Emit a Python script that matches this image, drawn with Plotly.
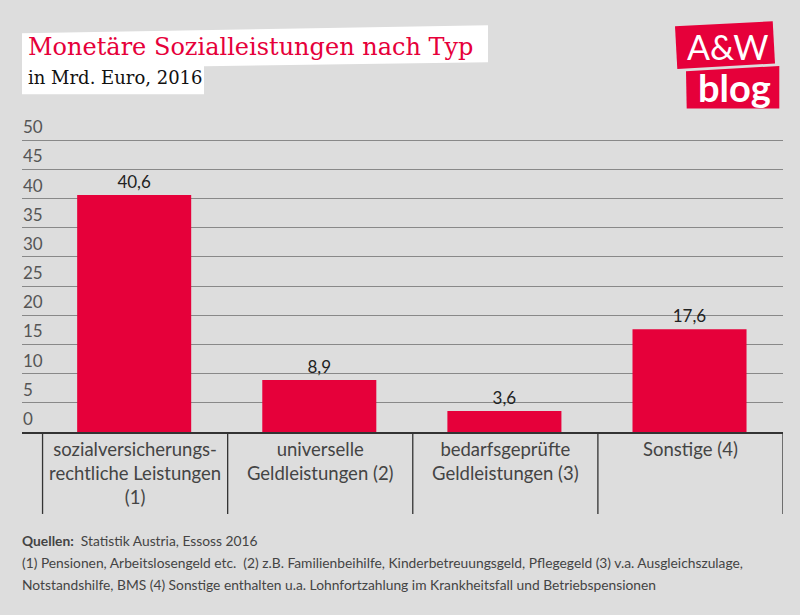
import plotly.graph_objects as go

W = 800
H = 615
# etwas ueber 50 hinaus, sonst zeichnet plotly die oberste Gitterlinie nicht
Y_MAX = 50.2
L, R, B = 22, 783, 432
T = B - Y_MAX * 5.84

kategorien = ["sozialversicherungs-<br>rechtliche Leistungen<br>(1)", "universelle<br>Geldleistungen (2)",
              "bedarfsgeprüfte<br>Geldleistungen (3)", "Sonstige (4)"]
werte = [40.6, 8.9, 3.6, 17.6]
y_ticks = [0, 5, 10, 15, 20, 25, 30, 35, 40, 45, 50]
positionen = [0, 1, 2, 3]
trenner = [-0.5, 0.5, 1.5, 2.5, 3.5]

ROT = "#e6003a"
TEXT = "#444444"
SANS = "Lato"
SLAB = "DejaVu Serif"


# Pixel im Bild -> paper-Koordinaten
def px(x):
    return (x - L) / (R - L)


def py(y):
    return (B - y) / (B - T)


def polygon(punkte, farbe):
    pfad = "M " + " L ".join(f"{px(x):.5f},{py(y):.5f}" for x, y in punkte) + " Z"
    return dict(type="path", xref="paper", yref="paper", path=pfad, fillcolor=farbe,
                line=dict(width=0), layer="below")


def text(x, y, s, size, color, family, anchor="left"):
    return dict(xref="paper", yref="paper", x=px(x), y=py(y), text=s, showarrow=False, xanchor=anchor,
                yanchor="middle", align="left", font=dict(size=size, color=color, family=family))


fig = go.Figure(go.Bar(
    x=positionen,
    y=werte,
    width=0.616,
    offset=-0.313,
    marker=dict(color=ROT, line=dict(width=0)),
    text=werte,
    texttemplate="%{y:.1f}",
    textposition="outside",
    cliponaxis=False,
    textfont=dict(size=17, color="#222222", family=SANS),
))

shapes = [
    # Titel-Hintergrund
    polygon([(22, 33), (488, 25), (488, 62), (204, 66), (204, 94), (22, 94)], "white"),
    # Logo
    polygon([(675, 26), (772.7, 21), (775, 63.3), (677.3, 68.7)], ROT),
    polygon([(686, 71), (779.3, 65.7), (779.3, 108.3), (686.7, 108.3)], ROT),
]
for t in trenner:
    shapes.append(dict(type="line", xref="x", yref="paper", x0=t, x1=t, y0=0, y1=py(514),
                       line=dict(color="#333333", width=1.3)))

annotations = [
    text(26, 47, "Monetäre Sozialleistungen nach Typ", 24, ROT, SLAB),
    text(26, 77, "in Mrd. Euro, 2016", 18, "#111111", SLAB),
    text(727, 46, "A&amp;W", 34, "white", SANS, anchor="center"),
    text(734.5, 87, "<b>blog</b>", 38, "white", SANS, anchor="center"),
    text(20, 541, "<b>Quellen:</b>  Statistik Austria, Essoss 2016", 13.8, TEXT, SANS),
    text(20, 563, "(1) Pensionen, Arbeitslosengeld etc.  (2) z.B. Familienbeihilfe, Kinderbetreuungsgeld, "
                  "Pflegegeld (3) v.a. Ausgleichszulage,", 13.8, TEXT, SANS),
    text(20, 585, "Notstandshilfe, BMS (4) Sonstige enthalten u.a. Lohnfortzahlung im Krankheitsfall "
                  "und Betriebspensionen", 13.8, TEXT, SANS),
]
# Beschriftung der y-Achse steht ueber der Gitterlinie
for v in y_ticks:
    annotations.append(dict(xref="paper", yref="y", x=0, y=v, yshift=13.5, text=str(v), showarrow=False,
                            xanchor="left", yanchor="middle", xshift=-1,
                            font=dict(size=17, color="#555555", family=SANS)))

fig.update_layout(
    width=W,
    height=H,
    autosize=False,
    paper_bgcolor="#dddddd",
    plot_bgcolor="#dddddd",
    margin=dict(l=L, r=W - R, t=T, b=H - B, pad=0),
    separators=",.",
    showlegend=False,
    shapes=shapes,
    annotations=annotations,
    xaxis=dict(
        range=[-0.611, 3.5],
        tickmode="array",
        tickvals=positionen,
        ticktext=kategorien,
        tickfont=dict(size=18.5, color=TEXT, family=SANS),
        showgrid=False,
        showline=True,
        linecolor="#333333",
        linewidth=2,
        ticks="",
        automargin=False,
    ),
    yaxis=dict(
        range=[0, Y_MAX],
        tickmode="array",
        tickvals=y_ticks,
        showticklabels=False,
        gridcolor="#888888",
        gridwidth=1,
        zeroline=False,
        showline=False,
        ticks="",
        automargin=False,
    ),
)

# Browser-Standardrand vom body entfernen, Modebar aus
fig.write_html("out.html", config=dict(displayModeBar=False),
               post_script="document.body.style.margin = '0';")
